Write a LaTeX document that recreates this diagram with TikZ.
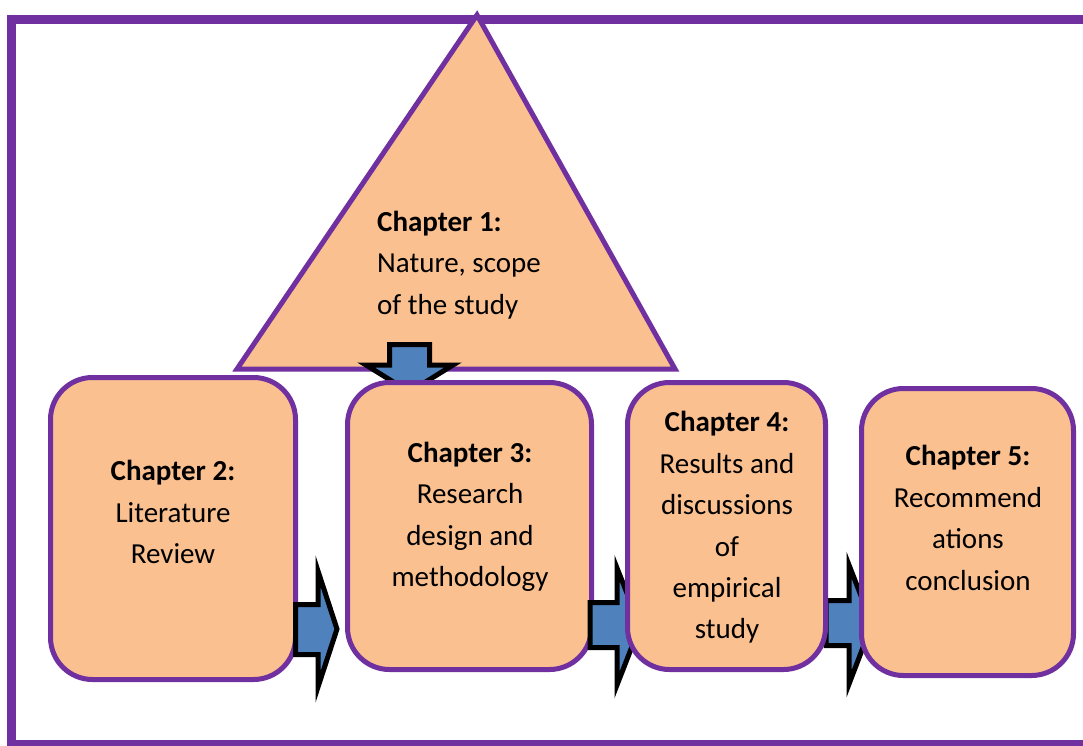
\documentclass[tikz,border=0pt]{standalone}
\usepackage{fontspec}
\setmainfont{Carlito}
\definecolor{framepurple}{HTML}{7030A0}
\definecolor{peach}{HTML}{FAC090}
\definecolor{arrowblue}{HTML}{4F81BD}
\begin{document}
\begin{tikzpicture}[x=1pt,y=-1pt,
  chapbox/.style={draw=framepurple, line width=5pt, fill=peach, rounded corners=42pt, inner sep=0pt},
  blockarrow/.style={draw=black, line width=5pt, fill=arrowblue, line join=miter},
  chaptext/.style={font=\fontsize{29}{41.4}\selectfont, align=center, inner sep=0pt},
  tri/.style={draw=framepurple, line width=5pt, fill=peach, line join=miter}]
\useasboundingbox (0,0) rectangle (1083,745);
\clip (0,0) rectangle (1083,745);

% outer frame (runs off the right edge)
\draw[framepurple, line width=9pt] (11.5,19.5) rectangle (1110,744.5);

% chapter 1 triangle
\coordinate (apex) at (477,15);
\coordinate (baseL) at (237,369);
\coordinate (baseR) at (675,369);
\draw[tri] (apex) -- (baseL) -- (baseR) -- cycle;
\node[chaptext, align=left, anchor=west] (t1) at (377,265)
  {\textbf{Chapter 1:}\\Nature, scope\\of the study};

% arrow from chapter 1 down into chapter 3
\draw[blockarrow] (389.5,344.5) -- (429.5,344.5) -- (429.5,365) -- (453,365)
  -- (409.5,392) -- (366,365) -- (389.5,365) -- cycle;

% chapter 2
\node[chapbox, minimum width=245pt, minimum height=302pt] (b2) at (173,528.5) {};
\node[chaptext] (t2) at (173,512) {\textbf{Chapter 2:}\\Literature\\Review};

% arrow 2 -> 3
\draw[blockarrow] (295.5,604.5) -- (318,604.5) -- (318,571) -- (337,629)
  -- (318,687) -- (318,654.5) -- (295.5,654.5) -- cycle;

% chapter 3
\node[chapbox, minimum width=244pt, minimum height=287pt] (b3) at (469.5,526) {};
\node[chaptext] (t3) at (470,517) {\textbf{Chapter 3:}\\Research\\design and\\methodology};

% arrows 3 -> 4 and 4 -> 5
\draw[blockarrow] (590,602.5) -- (617,602.5) -- (617,568) -- (640,626)
  -- (617,685) -- (617,647.5) -- (590,647.5) -- cycle;
\draw[blockarrow] (826,600.5) -- (849,600.5) -- (849,565) -- (872,624)
  -- (849,684) -- (849,645.5) -- (826,645.5) -- cycle;

% chapter 4
\node[chapbox, minimum width=198pt, minimum height=287pt] (b4) at (726.5,526) {};
\node[chaptext] (t4) at (727,527.5) {\textbf{Chapter 4:}\\Results and\\discussions\\of\\empirical\\study};

% chapter 5
\node[chapbox, minimum width=212pt, minimum height=287pt] (b5) at (967.5,532) {};
\node[chaptext] (t5) at (968,518) {\textbf{Chapter 5:}\\Recommend\\ations\\conclusion};
\end{tikzpicture}
\end{document}
